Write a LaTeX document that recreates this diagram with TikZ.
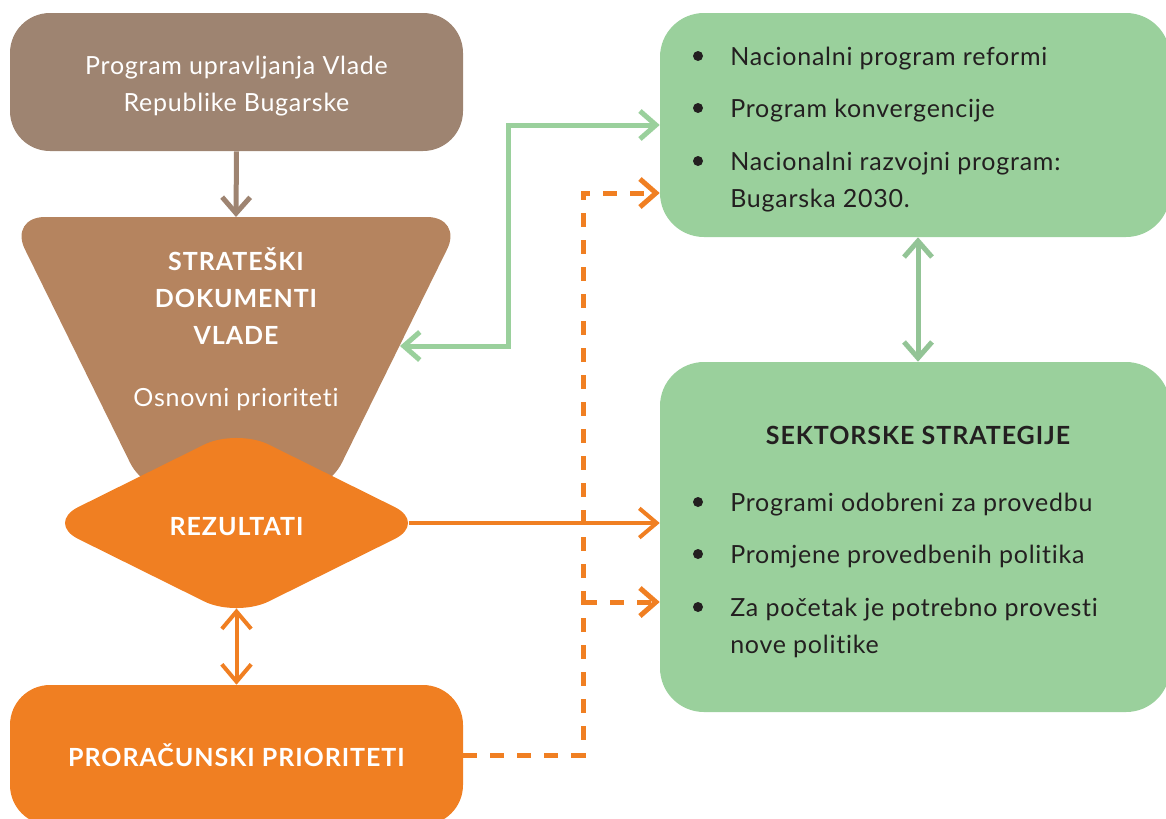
\documentclass[tikz,border=0pt]{standalone}
\usepackage{fontspec}
\setmainfont{Lato}[LetterSpace=3, Ligatures={NoCommon}, BoldFeatures={LetterSpace=3.8}]
\usetikzlibrary{arrows.meta,shapes.geometric}
\definecolor{govbrown}{HTML}{9E8471}
\definecolor{trapbrown}{HTML}{B5845F}
\definecolor{orng}{HTML}{F07F22}
\definecolor{lgreen}{HTML}{9AD09C}
\definecolor{dgreen}{HTML}{93C496}
\definecolor{ink}{HTML}{231F20}
\tikzset{
  ctip/.tip={Straight Barb[length=12pt,width=21pt]},
  otip/.tip={Straight Barb[length=13pt,width=22pt]},
}
\begin{document}
\begin{tikzpicture}[x=0.75pt,y=-0.75pt,
  txt/.style={font=\fontsize{18.75pt}{27.75pt}\selectfont},
  btxt/.style={font=\fontsize{18.75pt}{28pt}\selectfont\bfseries},
  govbox/.style={rectangle, rounded corners=30pt, fill=govbrown, inner sep=0pt,
    minimum width=339.75pt, minimum height=103.5pt},
  budbox/.style={rectangle, rounded corners=30pt, fill=orng, text=white, inner sep=0pt,
    minimum width=339.75pt, minimum height=105pt, align=center, btxt},
  greenbox/.style={rectangle, rounded corners=33pt, fill=lgreen, inner sep=0pt, minimum width=382.5pt},
  diam/.style={diamond, aspect=2, fill=orng, text=white, inner sep=0pt,
    minimum width=285.75pt, minimum height=141.75pt, rounded corners=27pt, btxt, text height=18.5pt},
  item/.style={txt, text=ink, anchor=base west, inner sep=0pt},
  dot/.style={circle, fill=ink, minimum size=7.5pt, inner sep=0pt},
  garrow/.style={draw=lgreen, line width=3.75pt},
  oarrow/.style={draw=orng, line width=3pt},
  darrow/.style={draw=orng, line width=3.75pt, dash pattern=on 10.5pt off 9.75pt},
]
\useasboundingbox (0,0) rectangle (1166,818);
\clip (0,0) rectangle (1166,818);

% left column
\node[govbox] (gov) at (236.5,82) {};
\node[txt, text=white, align=center] (govtxt) at (236.5,86) {Program upravljanja Vlade\\Republike Bugarske};
\fill[trapbrown, rounded corners=27pt] (146,495) -- (9,217) -- (463,217) -- (326,495) -- cycle;
\coordinate (trapTop) at (236,217);
\coordinate (trapR) at (400,346);
\node[btxt, text=white, align=center] (strat) at (236,296) {STRATEŠKI\\DOKUMENTI\\VLADE};
\node[txt, text=white] (osn) at (236,400) {Osnovni prioriteti};
\node[diam] (res) at (236.5,523) {REZULTATI};
\node[budbox] (bud) at (236.5,755) {PRORAČUNSKI PRIORITETI};

% right column
\node[greenbox, minimum height=168pt] (nat) at (915,125) {};
\node[greenbox, minimum height=262.5pt] (sec) at (915,537) {};

\node[dot] (b1) at (698,56) {};
\node[item] (t1) at (730,65) {Nacionalni program reformi};
\node[dot] (b2) at (698,108) {};
\node[item] (t2) at (730,117) {Program konvergencije};
\node[dot] (b3) at (698,161) {};
\node[item] (t3) at (730,170) {Nacionalni razvojni program:};
\node[item] (t3b) at (730,207) {Bugarska 2030.};

\node[btxt, text=ink] (sect) at (918,435) {SEKTORSKE STRATEGIJE};
\node[dot] (s1) at (698,502) {};
\node[item] (u1) at (730,511) {Programi odobreni za provedbu};
\node[dot] (s2) at (698,554) {};
\node[item] (u2) at (730,563) {Promjene provedbenih politika};
\node[dot] (s3) at (698,607) {};
\node[item] (u3) at (730,616) {Za početak je potrebno provesti};
\node[item] (u3b) at (730,653) {nove politike};

% connectors
\draw[draw=govbrown, line width=3.75pt, -{ctip}] (gov.south) -- (trapTop);
\draw[garrow, {ctip}-{ctip}] (trapR) -- (508,346) |- (nat.west);
\draw[draw=dgreen, line width=3.75pt, {ctip}-{ctip}] ([xshift=2.25pt]nat.south) -- ([xshift=2.25pt]sec.north);
\draw[oarrow, -{otip}, shorten <=-14pt] (res.east) -- (sec.west |- res.east);
\draw[oarrow, {otip}-{otip}, shorten <=-7pt] (res.south) -- (bud.north);
\coordinate (split) at (583,602);
\draw[darrow, -{ctip}] (bud.east) -- (583,755) -- (583,193) -- (nat.west |- 0,193);
\draw[darrow, -{ctip}] (split) -- (sec.west |- split);
\end{tikzpicture}
\end{document}
